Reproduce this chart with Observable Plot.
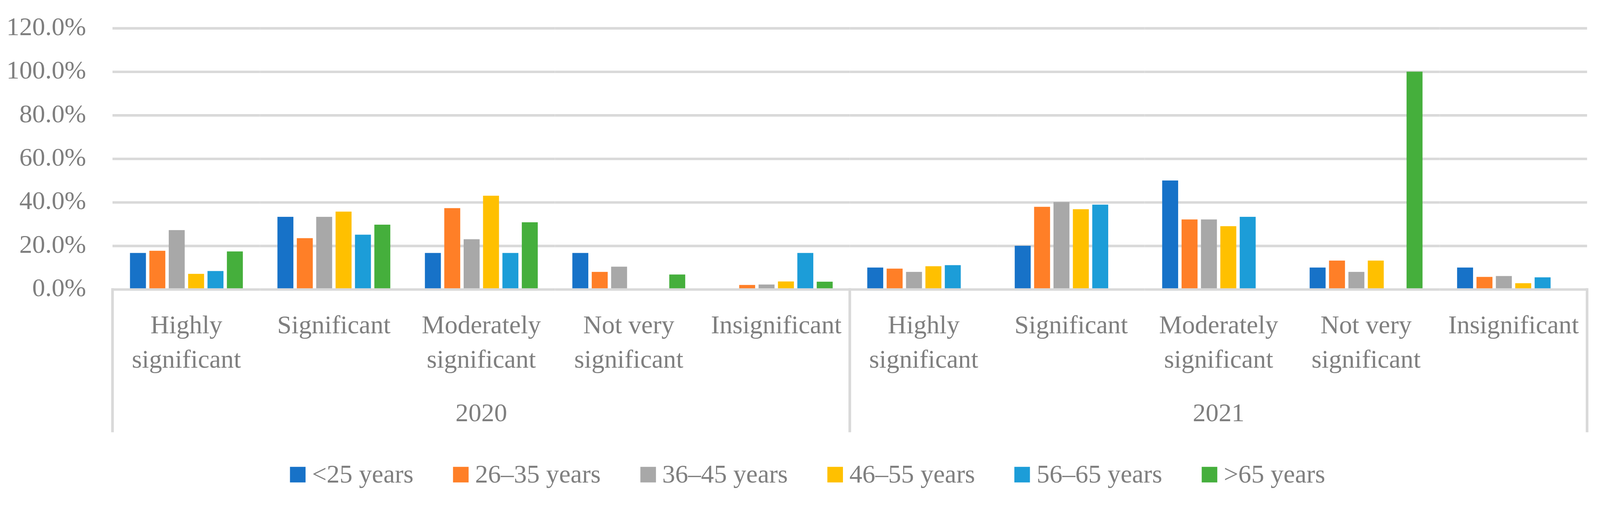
<!DOCTYPE html>
<html>
<head>
<meta charset="utf-8">
<script src="https://cdn.jsdelivr.net/npm/d3@7"></script>
<script src="https://cdn.jsdelivr.net/npm/@observablehq/plot@0.6"></script>
<style>
  html, body { margin: 0; padding: 0; background: #fff; overflow: hidden; }
  #wrap { width: 4210px; height: 1318px; transform-origin: 0 0; font-family: "Liberation Serif", serif; background: #fff; }
  #legend { display: flex; justify-content: center; align-items: baseline; padding-top: 32px; padding-left: 40px; box-sizing: border-box; width: 4210px; font-size: 68px; line-height: 1; color: #7f7f7f; }
  .item { display: flex; align-items: baseline; margin: 0 52px; }
  .sw { width: 41px; height: 41px; margin-right: 17px; }
</style>
</head>
<body>
<div id="wrap">
<div id="chart"></div>
<div id="legend"></div>
</div>
<script>
const years = ["2020", "2021"];
const categories = ["Highly significant", "Significant", "Moderately significant", "Not very significant", "Insignificant"];
const categoryLines = ["Highly\nsignificant", "Significant", "Moderately\nsignificant", "Not very\nsignificant", "Insignificant"];
const ages = ["<25 years", "26–35 years", "36–45 years", "46–55 years", "56–65 years", ">65 years"];
const colors = ["#1772c8", "#ff7f27", "#a8a8a8", "#ffc000", "#1c9dd8", "#45af3c"];
const yTicks = [0, 20, 40, 60, 80, 100, 120];

// values per age group: 5 categories of 2020 then 5 categories of 2021 (percent)
const under25   = [16.7, 33.3, 16.7, 16.7, 0,    10.0, 20.0, 50.0, 10.0, 10.0];
const age26to35 = [17.7, 23.5, 37.3, 8.0,  2.0,  9.5,  37.9, 32.1, 13.2, 5.7];
const age36to45 = [27.2, 33.3, 23.0, 10.4, 2.2,  8.0,  40.1, 32.1, 8.0,  6.1];
const age46to55 = [7.1,  35.7, 43.0, 0,    3.6,  10.6, 36.8, 29.0, 13.2, 2.8];
const age56to65 = [8.4,  25.1, 16.7, 0,    16.7, 11.1, 38.9, 33.3, 0,    5.5];
const over65    = [17.4, 29.7, 30.8, 6.8,  3.5,  0,    0,    0,    100,  0];
const series = [under25, age26to35, age36to45, age46to55, age56to65, over65];

const keys = [];
const labelRows = [];
years.forEach(y => categories.forEach((c, i) => {
  const key = y + " " + c;
  keys.push(key);
  labelRows.push({key, label: categoryLines[i]});
}));
const yearRows = years.map(y => ({key: y + " " + categories[2], year: y}));

const data = [];
series.forEach((vals, a) => vals.forEach((v, k) => {
  if (v > 0) data.push({key: keys[k], age: ages[a], value: v});
}));

const W = 4210, H = 1180;
const chart = Plot.plot({
  width: W,
  height: H,
  marginLeft: 295,
  marginRight: 34,
  marginTop: 74,
  marginBottom: H - 761,
  style: {fontFamily: "'Liberation Serif', serif", fontSize: "68px", color: "#7f7f7f", background: "#fff", overflow: "visible", maxWidth: "none"},
  fx: {domain: keys, padding: 0, axis: null},
  x: {domain: ages, paddingInner: 0.186, paddingOuter: 0.853, axis: null},
  y: {domain: [0, 120], axis: null},
  color: {domain: ages, range: colors},
  marks: [
    Plot.axisY({ticks: yTicks, tickSize: 0, tickPadding: 70, tickFormat: d => d.toFixed(1) + "%", label: null, dy: -4}),
    Plot.ruleY(yTicks.slice(1), {stroke: "#d9d9d9", strokeWidth: 6.5}),
    Plot.barY(data, {fx: "key", x: "age", y: "value", fill: "age"}),
    Plot.ruleY([0], {stroke: "#d9d9d9", strokeWidth: 6.5}),
    Plot.text(labelRows, {fx: "key", text: "label", frameAnchor: "bottom", lineAnchor: "top", dy: 51, lineHeight: 1.33}),
    Plot.text(yearRows, {fx: "key", text: "year", frameAnchor: "bottom", lineAnchor: "top", dy: 298})
  ]
});
document.getElementById("chart").appendChild(chart);

// vertical separators of the hierarchical category axis
const fx = chart.scale("fx");
const ys = chart.scale("y");
const y0 = ys.apply(0) - 3;
const edges = [fx.apply(keys[0]), fx.apply(keys[5]), fx.apply(keys[9]) + fx.bandwidth];
d3.select(chart).append("g")
  .selectAll("line").data(edges).join("line")
  .attr("x1", d => d).attr("x2", d => d)
  .attr("y1", y0).attr("y2", 1137)
  .attr("stroke", "#d9d9d9").attr("stroke-width", 7);

// legend
const legend = d3.select("#legend");
ages.forEach((a, i) => {
  const it = legend.append("div").attr("class", "item");
  it.append("div").attr("class", "sw").style("background", colors[i]);
  it.append("span").text(a);
});

// fit the 4210px-wide layout to the actual viewport
const s = window.innerWidth / 4210;
if (Math.abs(s - 1) > 0.001) document.getElementById("wrap").style.transform = `scale(${s})`;
</script>
</body>
</html>
